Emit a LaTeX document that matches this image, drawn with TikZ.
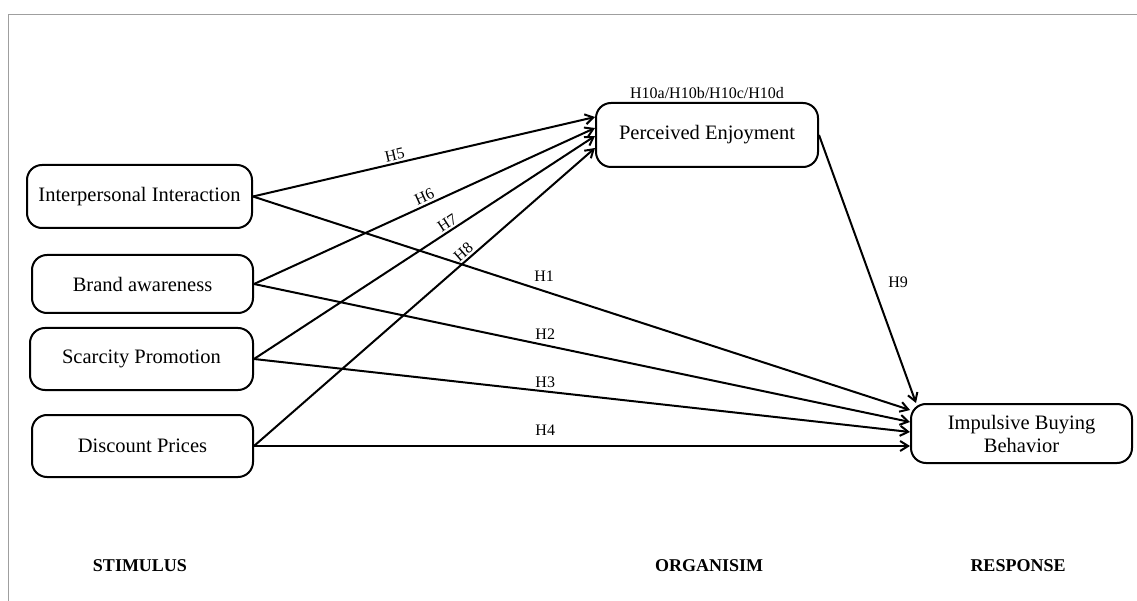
\documentclass[tikz,border=0pt]{standalone}
\usepackage{fontspec}
\setmainfont{Liberation Serif}
\usetikzlibrary{arrows.meta}
\begin{document}
\begin{tikzpicture}[x=1pt,y=-1pt,
 box/.style={draw, line width=2pt, rounded corners=15pt, inner sep=0pt, align=center, font=\fontsize{20.5}{23}\selectfont},
 conn/.style={line width=2pt, -{Straight Barb[length=8pt,width=10pt,line width=2pt]}},
 hlab/.style={font=\fontsize{16}{18}\selectfont, inner sep=2pt},
 slab/.style={font=\fontsize{16}{18}\selectfont, inner sep=0pt, sloped, above=2pt},
 stage/.style={font=\bfseries\fontsize{18}{20}\selectfont}]
\useasboundingbox (0,0) rectangle (1137,601);
\draw[gray!75, line width=1.5pt] (8.5,601) -- (8.5,14.5) -- (1137,14.5);

\node[box, minimum width=225pt, minimum height=63pt] (ii) at (139.5,196.5) {Interpersonal Interaction};
\node[box, minimum width=221pt, minimum height=58pt] (ba) at (142.5,284) {Brand awareness};
\node[box, minimum width=223pt, minimum height=62pt] (sp) at (141.5,359) {Scarcity Promotion};
\node[box, minimum width=221pt, minimum height=62pt] (dp) at (142.5,446) {Discount Prices};
\node[box, minimum width=222pt, minimum height=64pt] (pe) at (707,135) {Perceived Enjoyment};
\node[box, minimum width=221pt, minimum height=59pt] (ibb) at (1021.5,433.5) {Impulsive Buying\\Behavior};

\node[hlab] (h10) at (707,93) {H10a/H10b/H10c/H10d};

\draw[conn] (ii.east) -- node[slab, pos=0.42] {H5} ([yshift=18pt]pe.west);
\draw[conn] (ba.east) -- node[slab, pos=0.51] {H6} ([yshift=7pt]pe.west);
\draw[conn] (sp.east) -- node[slab, pos=0.58] {H7} ([yshift=-1pt]pe.west);
\draw[conn] (dp.east) -- node[slab, pos=0.63] {H8} ([yshift=-13pt]pe.west);

\draw[conn] (ii.east) -- node[hlab, above=7pt, pos=0.443] {H1} ([yshift=23.5pt]ibb.west);
\draw[conn] (ba.east) -- node[hlab, above=2.5pt, pos=0.444] {H2} ([yshift=11.5pt]ibb.west);
\draw[conn] (sp.east) -- node[hlab, above=0.5pt, pos=0.444] {H3} ([yshift=1.5pt]ibb.west);
\draw[conn] (dp.east) -- node[hlab, above=7.5pt, pos=0.444] {H4} ([yshift=-12.5pt]ibb.west);

\draw[conn] (pe.east) -- node[hlab, right=13pt, pos=0.55] {H9} ([xshift=6pt]ibb.north west);

\node[stage] (stim) at (140,566) {STIMULUS};
\node[stage] (org) at (709,566) {ORGANISIM};
\node[stage] (resp) at (1018,566) {RESPONSE};
\end{tikzpicture}
\end{document}
